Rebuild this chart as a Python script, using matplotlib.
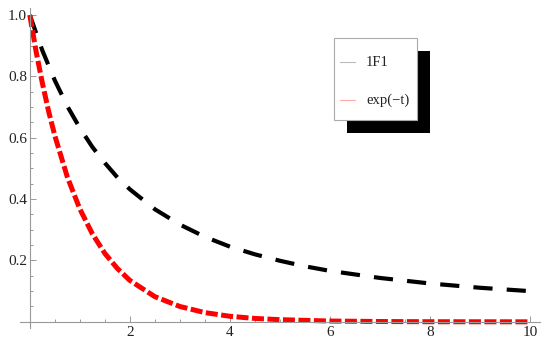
import numpy as np
import matplotlib.pyplot as plt
from matplotlib.patches import Rectangle
from matplotlib.lines import Line2D
from matplotlib.ticker import FixedLocator

# values
t_black = [0, 0.25, 0.5, 0.75, 1, 1.25, 1.5, 1.75, 2, 2.5, 3, 3.5, 4, 4.5, 5,
           5.5, 6, 7, 8, 9, 10]
y_black = [1.0, 0.885, 0.787, 0.703, 0.632, 0.570, 0.518, 0.471, 0.432, 0.367,
           0.317, 0.277, 0.245, 0.220, 0.199, 0.181, 0.166, 0.143, 0.125, 0.111,
           0.100]

t_red = [0, 0.125, 0.25, 0.375, 0.5, 0.75, 1, 1.25, 1.5, 1.75, 2, 2.5, 3, 3.5,
         4, 4.5, 5, 6, 7, 8, 10]
y_red = [1.0, 0.882, 0.779, 0.687, 0.607, 0.472, 0.368, 0.287, 0.223, 0.174,
         0.135, 0.082, 0.050, 0.030, 0.018, 0.011, 0.007, 0.0025, 0.001, 0.0003,
         0.0]

legend_labels = ['1F1', 'exp(\u2212t)']
x_ticks = [2, 4, 6, 8, 10]
y_ticks = [0.2, 0.4, 0.6, 0.8, 1.0]

plt.rcParams['font.family'] = ['Liberation Serif', 'DejaVu Serif']

fig = plt.figure(figsize=(5.5, 3.5), dpi=100)
ax = fig.add_axes([0.036, 0.063, 0.946, 0.914])

ax.plot(t_black, y_black, color='black', lw=3.0, linestyle=(0, (4.6, 3.4)),
        dash_capstyle='butt', clip_on=False)
ax.plot(t_red, y_red, color='#ff0000', lw=3.6, linestyle=(0, (2.4, 0.7)),
        dash_capstyle='butt', clip_on=False)

ax.set_xlim(-0.2, 10.2)
ax.set_ylim(-0.02, 1.023)

for side in ['top', 'right']:
    ax.spines[side].set_visible(False)
ax.spines['left'].set_position(('data', 0))
ax.spines['bottom'].set_position(('data', 0))
for side in ['left', 'bottom']:
    ax.spines[side].set_color('#999999')
    ax.spines[side].set_linewidth(0.8)

ax.xaxis.set_major_locator(FixedLocator(x_ticks))
ax.yaxis.set_major_locator(FixedLocator(y_ticks))
ax.xaxis.set_minor_locator(FixedLocator(np.arange(0.5, 10.01, 0.5)))
ax.yaxis.set_minor_locator(FixedLocator(np.arange(0.05, 1.001, 0.05)))
ax.set_xticklabels([str(v) for v in x_ticks])
ax.set_yticklabels(['%.1f' % v for v in y_ticks])
ax.tick_params(which='both', direction='in', color='#999999', width=0.7,
               labelsize=11, labelcolor='#222222')
ax.tick_params(which='major', length=4.5)
ax.tick_params(which='minor', length=2.5)
ax.tick_params(axis='x', pad=3)
ax.tick_params(axis='y', pad=2)

# legend box with hard black shadow, drawn in figure pixels
W, H = 550, 350
def fig_rect(x0, y0, x1, y1, **kw):
    r = Rectangle((x0 / W, 1 - y1 / H), (x1 - x0) / W, (y1 - y0) / H,
                  transform=fig.transFigure, **kw)
    fig.add_artist(r)

fig_rect(347, 51, 430, 133, facecolor='black', edgecolor='none', zorder=5)
fig_rect(334, 38, 417, 120, facecolor='white', edgecolor='#aaaaaa',
         linewidth=0.8, zorder=6)
for ypx, col, lab in [(62, '#bbbbbb', legend_labels[0]),
                      (100, '#ffaaaa', legend_labels[1])]:
    fig.add_artist(Line2D([340 / W, 355 / W], [1 - ypx / H, 1 - ypx / H],
                          color=col, lw=0.8, transform=fig.transFigure,
                          zorder=7))
    fig.text(366 / W, 1 - ypx / H, lab, fontsize=10.5, color='#222222',
             va='center', ha='left', zorder=7)

fig.savefig('out.png', dpi=100)
